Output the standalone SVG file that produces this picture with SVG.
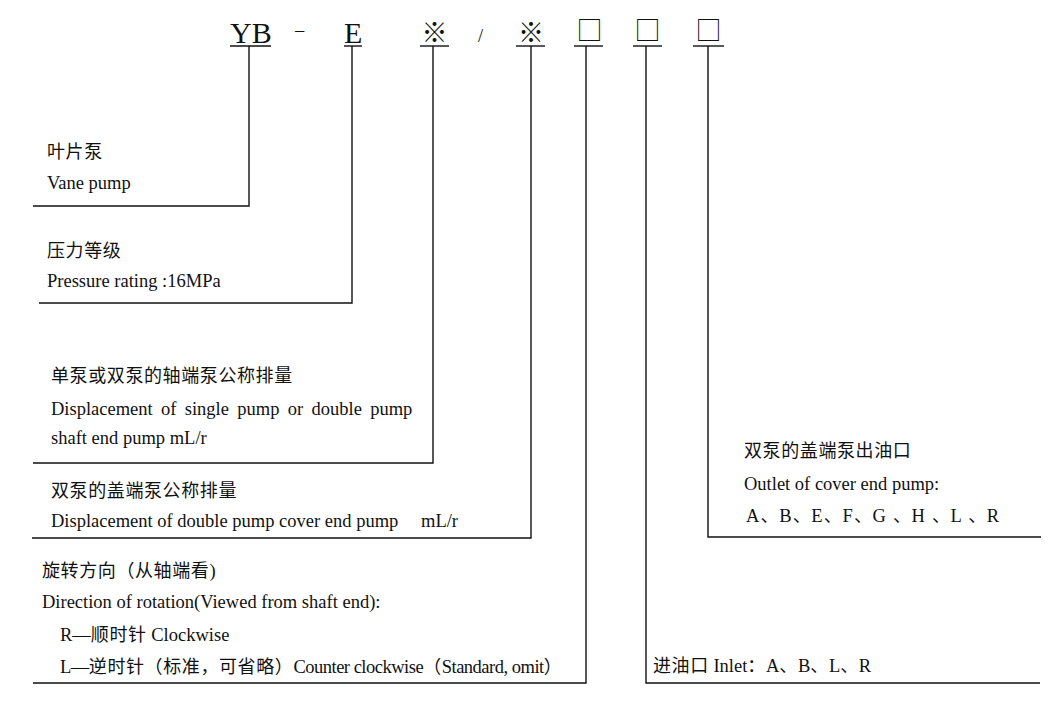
<svg xmlns="http://www.w3.org/2000/svg" width="1064" height="720" viewBox="0 0 1064 720">
<style>
text{font-family:"Liberation Serif","Noto Sans CJK SC",serif;font-size:18.5px;fill:#111}
.hd{font-size:30px}
.sym{font-family:"Noto Sans CJK SC",sans-serif;font-size:26px;text-anchor:middle}
.cj{font-family:"Noto Sans CJK SC",sans-serif;font-size:18px;letter-spacing:0.6px}
.ln{fill:none;stroke:#111;stroke-width:1.4}
</style>
<rect width="1064" height="720" fill="#fff"/>
<g id="code">
<text class="hd" x="230" y="43">YB</text>
<text x="295" y="36" font-size="24">–</text>
<text class="hd" x="344" y="43">E</text>
<text class="sym" x="434.5" y="42">※</text>
<text x="478" y="42" font-size="21">/</text>
<text class="sym" x="531" y="42">※</text>
<text class="sym" x="589.5" y="40">□</text>
<text class="sym" x="647.5" y="40">□</text>
<text class="sym" x="708.5" y="40">□</text>
</g>
<g id="connectors">
<polyline class="ln" points="230,46 271,46"/>
<polyline class="ln" points="344,46 362,46"/>
<polyline class="ln" points="420,46 449,46"/>
<polyline class="ln" points="516,46 545,46"/>
<polyline class="ln" points="574,46 603,46"/>
<polyline class="ln" points="633,46 662,46"/>
<polyline class="ln" points="693,46 724,46"/>
<polyline class="ln" points="249,46 249,206 33,206"/>
<polyline class="ln" points="352,46 352,303 39,303"/>
<polyline class="ln" points="433,46 433,463 33,463"/>
<polyline class="ln" points="531,46 531,538 32,538"/>
<polyline class="ln" points="586,46 586,683 33,683"/>
<polyline class="ln" points="646,46 646,683 1040,683"/>
<polyline class="ln" points="708,46 708,537 1041,537"/>
</g>
<g id="vane-pump">
<text class="cj" x="47" y="158">叶片泵</text>
<text x="47" y="189">Vane pump</text>
</g>
<g id="pressure">
<text class="cj" x="47" y="257">压力等级</text>
<text x="47" y="287">Pressure rating :16MPa</text>
</g>
<g id="shaft-displacement">
<text class="cj" x="51" y="382">单泵或双泵的轴端泵公称排量</text>
<text x="51" y="415" word-spacing="3.7">Displacement of single pump or double pump</text>
<text x="51" y="444">shaft end pump mL/r</text>
</g>
<g id="cover-displacement">
<text class="cj" x="51" y="497">双泵的盖端泵公称排量</text>
<text x="51" y="527">Displacement of double pump cover end pump<tspan x="421">mL/r</tspan></text>
</g>
<g id="rotation">
<text x="42" y="577"><tspan class="cj">旋转方向（从轴端看</tspan>)</text>
<text x="42" y="608">Direction of rotation(Viewed from shaft end):</text>
<text x="60" y="641">R—<tspan class="cj">顺时针</tspan> Clockwise</text>
<text x="60" y="673" font-size="18" letter-spacing="-0.5">L—<tspan class="cj" letter-spacing="-0.5">逆时针（标准，可省略）</tspan>Counter clockwise<tspan class="cj" letter-spacing="-0.5">（</tspan>Standard, omit<tspan class="cj" letter-spacing="-0.5">）</tspan></text>
</g>
<g id="inlet">
<text x="653" y="672"><tspan class="cj">进油口</tspan> Inlet<tspan class="cj">：</tspan>A<tspan class="cj">、</tspan>B<tspan class="cj">、</tspan>L<tspan class="cj">、</tspan>R</text>
</g>
<g id="outlet">
<text class="cj" x="744" y="457">双泵的盖端泵出油口</text>
<text x="744" y="490">Outlet of cover end pump:</text>
<text x="746" y="522" letter-spacing="1.2">A<tspan class="cj">、</tspan>B<tspan class="cj">、</tspan>E<tspan class="cj">、</tspan>F<tspan class="cj">、</tspan>G <tspan class="cj">、</tspan>H <tspan class="cj">、</tspan>L <tspan class="cj">、</tspan>R</text>
</g>
</svg>
